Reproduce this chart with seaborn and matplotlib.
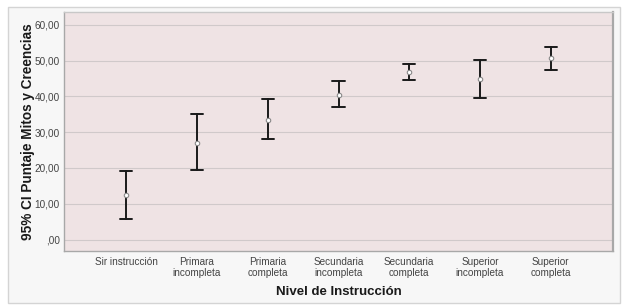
import numpy as np
import pandas as pd
import matplotlib
matplotlib.use("Agg")
import matplotlib.pyplot as plt
import seaborn as sns
from matplotlib.patches import Rectangle
from matplotlib.ticker import FuncFormatter

# Summary values (95% CI of the mean)
niveles = ["Sir instrucción", "Primara\nincompleta", "Primaria\ncompleta",
           "Secundaria\nincompleta", "Secundaria\ncompleta",
           "Superior\nincompleta", "Superior\ncompleta"]
media = [12.5, 27.1, 33.5, 40.4, 46.9, 44.8, 50.7]
ci_inf = [5.8, 19.5, 28.0, 37.1, 44.6, 39.7, 47.4]
ci_sup = [19.2, 35.1, 39.2, 44.4, 49.1, 50.1, 53.8]

# long form: lower / mean / upper per group -> median = mean, min..max = CI
df = pd.DataFrame({
    "nivel": np.repeat(niveles, 3),
    "valor": np.ravel(np.column_stack([ci_inf, media, ci_sup])),
})

sns.set_theme(style="white")
plt.rcParams["font.family"] = ["Liberation Sans", "DejaVu Sans"]

fig = plt.figure(figsize=(6.24, 3.07), dpi=100)
fig.patch.set_facecolor("white")
panel = Rectangle((8 / 624, 1 - 303 / 307), 612 / 624, 296 / 307,
                  transform=fig.transFigure, facecolor="#f7f7f7",
                  edgecolor="#d4d4d4", linewidth=1, zorder=-1)
fig.add_artist(panel)

ax = fig.add_axes([64 / 624, 1 - 251 / 307, 549 / 624, 239 / 307])
ax.set_facecolor("#efe3e4")

sns.pointplot(data=df, x="nivel", y="valor", order=niveles,
              estimator="median", errorbar=lambda x: (x.min(), x.max()),
              linestyle="none", capsize=0.17, color="#1a1a1a",
              err_kws={"linewidth": 1.4}, marker="o", markersize=3.2,
              markerfacecolor="white", markeredgecolor="#888888",
              markeredgewidth=0.8, ax=ax)

# put the mean marker on top of the bar
for ln in ax.lines:
    if ln.get_marker() == "o":
        ln.set_zorder(5)

ax.set_xlim(-0.88, 6.88)
ax.set_ylim(-3.2, 63.6)
ax.set_yticks(np.arange(0, 61, 10))
ax.yaxis.set_major_formatter(FuncFormatter(
    lambda v, p: ",00" if v == 0 else f"{v:.2f}".replace(".", ",")))
ax.grid(axis="y", color="#d0c9ca", linewidth=0.8)
ax.set_axisbelow(True)

for s in ax.spines.values():
    s.set_color("#a8a8a8")
    s.set_linewidth(1)
ax.spines["top"].set_color("#c8c8c8")
ax.spines["right"].set_linewidth(1.6)

ax.tick_params(axis="both", length=0, labelsize=7.2, labelcolor="#444444")
ax.tick_params(axis="y", pad=3)
ax.tick_params(axis="x", pad=4)

ax.set_xlabel("Nivel de Instrucción", fontsize=9.5, fontweight="bold",
              color="#1a1a1a", labelpad=6)
ax.set_ylabel("95% CI Puntaje Mitos y Creencias", fontsize=9.8,
              fontweight="bold", color="#1a1a1a", labelpad=0)

fig.savefig("out.png", dpi=100)
